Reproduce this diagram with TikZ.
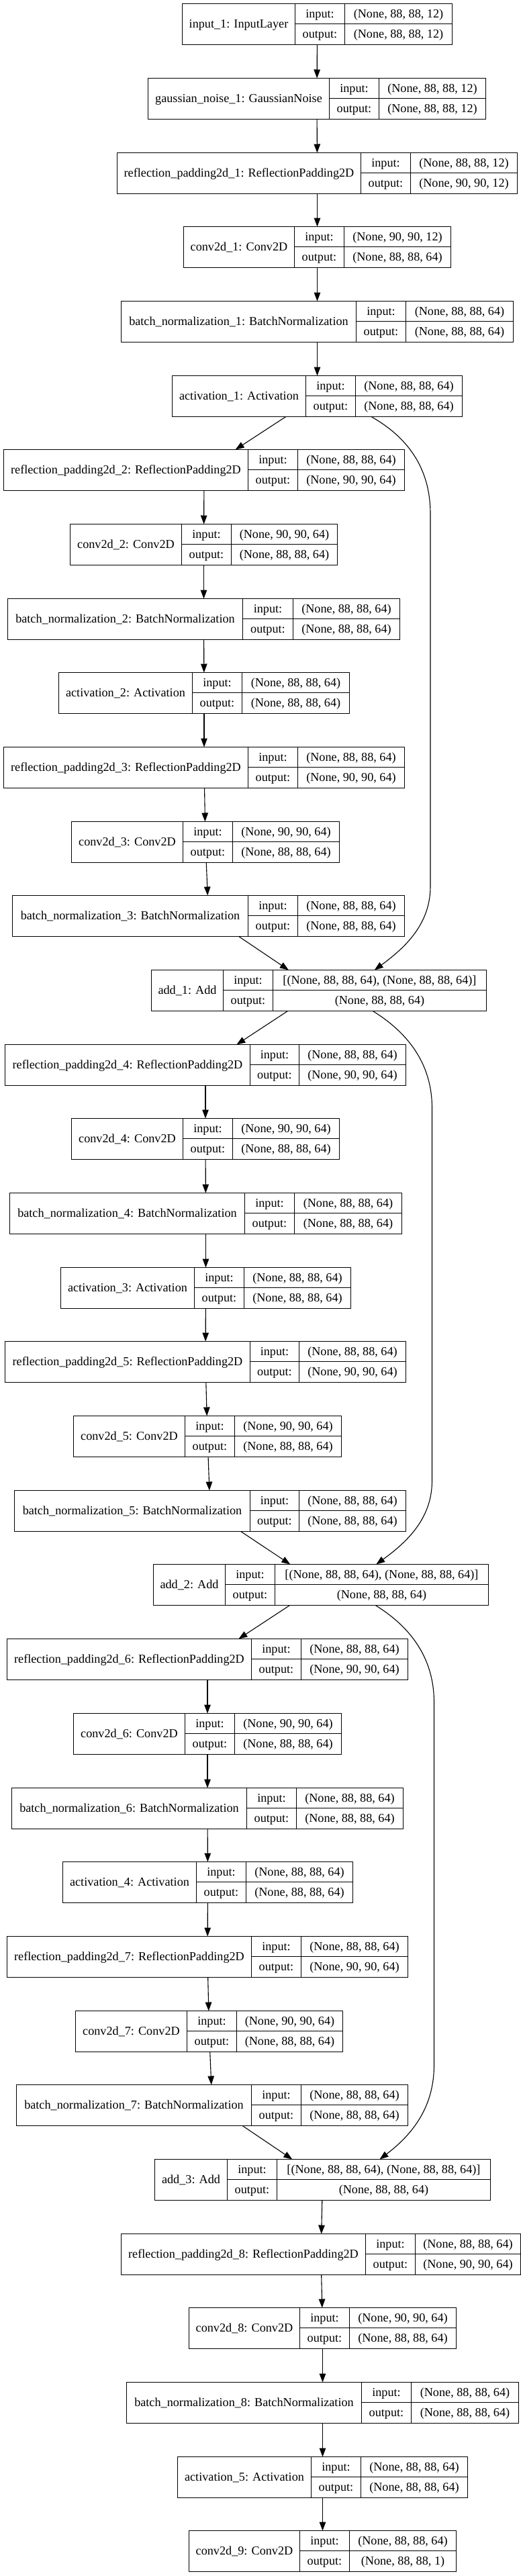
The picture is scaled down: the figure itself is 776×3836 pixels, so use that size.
\documentclass[tikz,border=0pt]{standalone}
\usepackage{fontspec}
\setmainfont{Liberation Serif}
\usetikzlibrary{arrows.meta,calc}
\tikzset{
  recbox/.style={draw=black, line width=1.1pt, inner sep=0pt, outer sep=0pt, minimum height=61pt},
  recline/.style={draw=black, line width=1.1pt},
  txt/.style={inner sep=0pt, font=\fontsize{18.2}{22}\selectfont, text height=15.6pt, text depth=3.9pt},
  edge/.style={draw=black, line width=1.1pt, -{Triangle[length=13pt,width=9.5pt]}},
}
\newcommand\layerrec[9]{%
  \pgfmathsetmacro\lrT{floor(5.7+110.68*#6)+0.5}%
  \pgfmathsetmacro\lrB{\lrT+61}%
  \pgfmathsetmacro\lrM{\lrT+30}%
  \pgfmathsetmacro\lrL{floor(#2)+0.5}%
  \pgfmathsetmacro\lrP{floor(#3)+0.5}%
  \pgfmathsetmacro\lrQ{floor(#4)+0.5}%
  \pgfmathsetmacro\lrR{floor(#5)+0.5}%
  \pgfmathsetmacro\lrW{\lrR-\lrL}%
  \node[recbox, minimum width=\lrW pt, anchor=north west] (#1) at (\lrL,\lrT) {};
  \draw[recline] (\lrP,\lrT) -- (\lrP,\lrB) (\lrQ,\lrT) -- (\lrQ,\lrB) (\lrP,\lrM) -- (\lrR,\lrM);
  \node[txt] (#1-name) at ({(\lrL+\lrP)/2},{\lrT+30.5}) {#7};
  \node[txt] (#1-il) at ({(\lrP+\lrQ)/2},{(\lrT+\lrM)/2}) {input:};
  \node[txt] (#1-iv) at ({(\lrQ+\lrR)/2},{(\lrT+\lrM)/2}) {#8};
  \node[txt] (#1-ol) at ({(\lrP+\lrQ)/2},{(\lrM+\lrB)/2}) {output:};
  \node[txt] (#1-ov) at ({(\lrQ+\lrR)/2},{(\lrM+\lrB)/2}) {#9};
}
\def\sA{(None, 88, 88, 64)}
\def\sB{(None, 90, 90, 64)}
\def\sC{[(None, 88, 88, 64), (None, 88, 88, 64)]}
\begin{document}
\begin{tikzpicture}[x=1pt,y=-1pt]
\useasboundingbox (0,0) rectangle (776,3836);
\fill[white] (0,0) rectangle (776,3836);
\layerrec{in1}{271.5}{439.5}{513.5}{673}{0}{input\_1: InputLayer}{(None, 88, 88, 12)}{(None, 88, 88, 12)}
\layerrec{gn1}{220.5}{490}{564.5}{723.5}{1}{gaussian\_noise\_1: GaussianNoise}{(None, 88, 88, 12)}{(None, 88, 88, 12)}
\layerrec{rp1}{174}{537.5}{611}{770.5}{2}{reflection\_padding2d\_1: ReflectionPadding2D}{(None, 88, 88, 12)}{(None, 90, 90, 12)}
\layerrec{cv1}{273}{438.5}{512.5}{671.5}{3}{conv2d\_1: Conv2D}{(None, 90, 90, 12)}{\sA}
\layerrec{bn1}{180.5}{530.5}{604.5}{764}{4}{batch\_normalization\_1: BatchNormalization}{\sA}{\sA}
\layerrec{ac1}{256}{455}{529}{688}{5}{activation\_1: Activation}{\sA}{\sA}
\layerrec{rp2}{5}{369}{443}{602}{6}{reflection\_padding2d\_2: ReflectionPadding2D}{\sA}{\sB}
\layerrec{cv2}{104}{270}{344}{502.5}{7}{conv2d\_2: Conv2D}{\sB}{\sA}
\layerrec{bn2}{11.5}{361.5}{436.5}{595}{8}{batch\_normalization\_2: BatchNormalization}{\sA}{\sA}
\layerrec{ac2}{87.5}{286.5}{360.5}{520}{9}{activation\_2: Activation}{\sA}{\sA}
\layerrec{rp3}{5}{369}{443}{602}{10}{reflection\_padding2d\_3: ReflectionPadding2D}{\sA}{\sB}
\layerrec{cv3}{106.5}{272.5}{346.5}{505.5}{11}{conv2d\_3: Conv2D}{\sB}{\sA}
\layerrec{bn3}{18.5}{369}{443}{602}{12}{batch\_normalization\_3: BatchNormalization}{\sA}{\sA}
\layerrec{ad1}{225}{332.5}{406.5}{724.5}{13}{add\_1: Add}{\sC}{\sA}
\layerrec{rp4}{7.5}{372}{445.5}{604.5}{14}{reflection\_padding2d\_4: ReflectionPadding2D}{\sA}{\sB}
\layerrec{cv4}{106.5}{272.5}{346.5}{505.5}{15}{conv2d\_4: Conv2D}{\sB}{\sA}
\layerrec{bn4}{14.5}{364.5}{438.5}{598}{16}{batch\_normalization\_4: BatchNormalization}{\sA}{\sA}
\layerrec{ac3}{90}{289.5}{363.5}{522.5}{17}{activation\_3: Activation}{\sA}{\sA}
\layerrec{rp5}{7.5}{372}{445.5}{604.5}{18}{reflection\_padding2d\_5: ReflectionPadding2D}{\sA}{\sB}
\layerrec{cv5}{109.5}{275.5}{349.5}{508}{19}{conv2d\_5: Conv2D}{\sB}{\sA}
\layerrec{bn5}{21}{372}{445.5}{604.5}{20}{batch\_normalization\_5: BatchNormalization}{\sA}{\sA}
\layerrec{ad2}{228}{335.5}{409}{727.5}{21}{add\_2: Add}{\sC}{\sA}
\layerrec{rp6}{10.5}{374.5}{448.5}{607.5}{22}{reflection\_padding2d\_6: ReflectionPadding2D}{\sA}{\sB}
\layerrec{cv6}{109.5}{275.5}{349.5}{508}{23}{conv2d\_6: Conv2D}{\sB}{\sA}
\layerrec{bn6}{17.5}{367.5}{441.5}{600.5}{24}{batch\_normalization\_6: BatchNormalization}{\sA}{\sA}
\layerrec{ac4}{93}{292}{366}{525}{25}{activation\_4: Activation}{\sA}{\sA}
\layerrec{rp7}{10.5}{374.5}{448.5}{607.5}{26}{reflection\_padding2d\_7: ReflectionPadding2D}{\sA}{\sB}
\layerrec{cv7}{112}{278}{352}{510.5}{27}{conv2d\_7: Conv2D}{\sB}{\sA}
\layerrec{bn7}{24}{374.5}{448.5}{607.5}{28}{batch\_normalization\_7: BatchNormalization}{\sA}{\sA}
\layerrec{ad3}{230}{338}{412}{730}{29}{add\_3: Add}{\sC}{\sA}
\layerrec{rp8}{180}{544}{618}{775}{30}{reflection\_padding2d\_8: ReflectionPadding2D}{\sA}{\sB}
\layerrec{cv8}{281}{446}{520.5}{679.5}{31}{conv2d\_8: Conv2D}{\sB}{\sA}
\layerrec{bn8}{188.5}{538.5}{612.5}{772}{32}{batch\_normalization\_8: BatchNormalization}{\sA}{\sA}
\layerrec{ac5}{264}{463}{537.5}{696}{33}{activation\_5: Activation}{\sA}{\sA}
\layerrec{cv9}{281}{446}{520.5}{679.5}{34}{conv2d\_9: Conv2D}{\sA}{(None, 88, 88, 1)}
\foreach \a/\b in {in1/gn1,gn1/rp1,rp1/cv1,cv1/bn1,bn1/ac1,ac1/rp2,rp2/cv2,cv2/bn2,bn2/ac2,ac2/rp3,rp3/cv3,cv3/bn3,bn3/ad1,
  ad1/rp4,rp4/cv4,cv4/bn4,bn4/ac3,ac3/rp5,rp5/cv5,cv5/bn5,bn5/ad2,
  ad2/rp6,rp6/cv6,cv6/bn6,bn6/ac4,ac4/rp7,rp7/cv7,cv7/bn7,bn7/ad3,
  ad3/rp8,rp8/cv8,cv8/bn8,bn8/ac5,ac5/cv9}
  \draw[edge] (\a) -- (\b);
\draw[edge] ([xshift=80.5pt]ac1.south) .. controls (605,650) and (641,695) .. (641,765) -- (641,1320) .. controls (641,1375) and (605,1410) .. ([xshift=82.75pt]ad1.north);
\draw[edge] ([xshift=80.25pt]ad1.south) .. controls (603,1535) and (643.5,1580) .. (643.5,1650) -- (643.5,2205) .. controls (643.5,2260) and (608,2295) .. ([xshift=82.25pt]ad2.north);
\draw[edge] ([xshift=81.25pt]ad2.south) .. controls (607,2420) and (646.5,2465) .. (646.5,2535) -- (646.5,3075) .. controls (646.5,3140) and (612,3180) .. ([xshift=85pt]ad3.north);
\end{tikzpicture}
\end{document}
